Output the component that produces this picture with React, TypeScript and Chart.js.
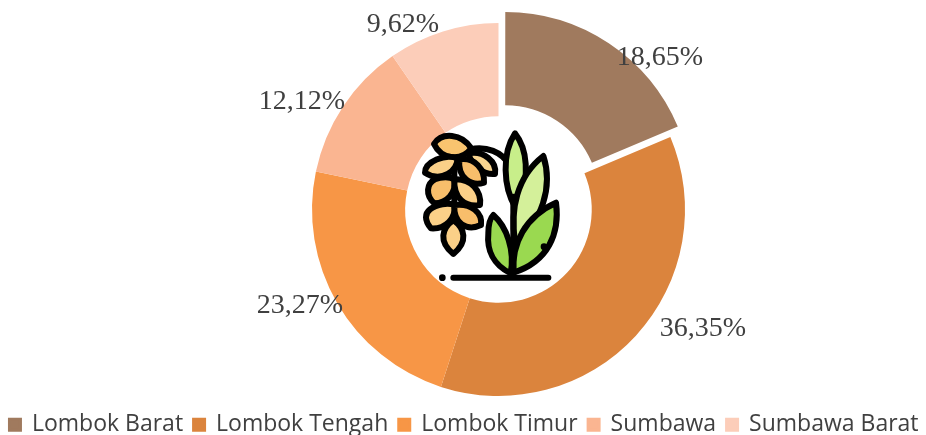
import React, { useEffect, useRef } from "react";
import { Chart, registerables } from "chart.js";

Chart.register(...registerables);

const categories = ["Lombok Barat", "Lombok Tengah", "Lombok Timur", "Sumbawa", "Sumbawa Barat"];
const values = [18.65, 36.35, 23.27, 12.12, 9.62];
const valueLabels = ["18,65%", "36,35%", "23,27%", "12,12%", "9,62%"];
const colors = ["#A07A5E", "#DB843D", "#F79646", "#FAB591", "#FCCDB9"];
const sliceOffsets = [48, 0, 0, 0, 0];
const labelShift = [[161.5, -151.5], [204.5, 119.5], [-198.5, 96.5], [-196.5, -107.5], [-95.5, -184.5]];

const layoutPlugin = {
  id: "placePie",
  afterLayout(chart: any) {
    const a = chart.chartArea;
    const cx = 534.5, cy = 209.5;
    const mx = (a.left + a.right) / 2, my = (a.top + a.bottom) / 2;
    a.left += cx - mx; a.right += cx - mx;
    a.top += cy - my; a.bottom += cy - my;
    const lg = chart.legend;
    const h = lg.bottom - lg.top;
    lg.top = 424.5 - h / 2;
    lg.bottom = lg.top + h;
  },
};

const labelPlugin = {
  id: "valueLabels",
  afterDatasetsDraw(chart: any) {
    const arcs = chart.getDatasetMeta(0).data;
    const ctx = chart.ctx;
    ctx.save();
    ctx.font = '28px "Liberation Serif"';
    ctx.fillStyle = "#404040";
    ctx.textAlign = "center";
    ctx.textBaseline = "middle";
    arcs.forEach((arc: any, i: number) => {
      ctx.fillText(valueLabels[i], arc.x + labelShift[i][0], arc.y + labelShift[i][1]);
    });
    ctx.restore();
  },
};

function Icon() {
  const s = { stroke: "#000", strokeWidth: 18, strokeLinejoin: "round" as const, strokeLinecap: "round" as const };
  return (
    <svg viewBox="0 0 540 510" width={180} height={170} style={{ position: "absolute", left: 400, top: 120 }}>
      <g {...s}>
        <path d="M163,120 V305" fill="none" />
        <path d="M210,88 C260,78 305,95 328,135" fill="none" />
        <path d="M205,100 C250,90 292,125 285,162 C245,165 215,135 205,100Z" fill="#F9D58F" />
        <path d="M102,72 C125,35 185,40 214,85 C185,125 125,120 102,72Z" fill="#F9C46F" />
        <path d="M75,158 C75,125 135,100 172,115 C175,150 125,190 75,158Z" fill="#FBD088" />
        <path d="M178,118 C225,110 255,150 252,188 C215,200 172,175 178,118Z" fill="#F8BE6B" />
        <path d="M163,178 C170,220 140,250 103,250 C75,225 80,190 105,178 C125,170 150,170 163,178Z" fill="#F8BE6B" />
        <path d="M163,178 C215,175 245,215 240,255 C195,262 160,235 163,178Z" fill="#FBD088" />
        <path d="M163,255 C170,295 135,328 93,325 C72,300 75,280 90,268 C110,252 145,248 163,255Z" fill="#FBD088" />
        <path d="M163,255 C215,248 248,280 243,315 C200,335 160,310 163,255Z" fill="#F8BE6B" />
        <path d="M160,300 C195,325 205,365 160,402 C115,365 125,325 160,300Z" fill="#FBD088" />
        <path d="M345,40 C385,90 385,170 362,235 L345,260 C310,200 305,100 345,40Z" fill="#C8EE8A" />
        <path d="M430,108 C460,200 425,310 345,365 C330,270 350,170 430,108Z" fill="#D4F09A" />
        <path d="M468,248 C480,340 445,425 340,458 C335,370 375,290 468,248Z" fill="#9AD950" />
        <path d="M280,285 C320,320 345,390 332,460 C280,435 260,390 265,340 C265,315 270,295 280,285Z" fill="#9AD950" />
        <path d="M340,230 V465" fill="none" />
        <path d="M160,473 H445" fill="none" />
      </g>
      <circle cx={127} cy={473} r={10} />
      <circle cx={432} cy={380} r={10} />
    </svg>
  );
}

export default function App() {
  const ref = useRef<HTMLCanvasElement>(null);
  useEffect(() => {
    const chart = new Chart(ref.current!, {
      type: "doughnut",
      data: {
        labels: categories,
        datasets: [{ data: values, backgroundColor: colors, borderWidth: 0, offset: sliceOffsets, radius: 186.5, cutout: "50%" } as any],
      },
      options: {
        responsive: false,
        animation: false,
        plugins: {
          tooltip: { enabled: false },
          legend: {
            position: "bottom",
            labels: {
              boxWidth: 11,
              boxHeight: 11,
              padding: 10.5,
              color: "#404040",
              font: { family: '"Open Sans"', size: 23 },
              generateLabels(c: any) {
                const base = (Chart as any).overrides.doughnut.plugins.legend.labels.generateLabels(c);
                return base.map((it: any) => ({ ...it, strokeStyle: it.fillStyle, lineWidth: 3 }));
              },
            },
          },
        },
      },
      plugins: [layoutPlugin, labelPlugin],
    } as any);
    return () => chart.destroy();
  }, []);
  return (
    <div style={{ position: "fixed", left: 0, top: 0, width: 926, height: 435, overflow: "hidden", background: "#fff" }}>
      <canvas ref={ref} width={1000} height={435} style={{ display: "block", position: "absolute", left: -36, top: 0 }} />
      <Icon />
    </div>
  );
}
